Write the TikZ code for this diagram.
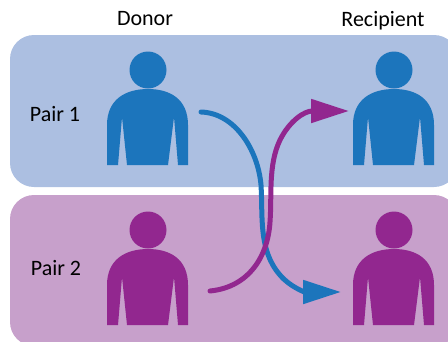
\documentclass[tikz,border=0pt]{standalone}
\usepackage{fontspec}
\setmainfont{Carlito}
\usetikzlibrary{arrows.meta}
\definecolor{pairblue}{HTML}{ACBFE1}
\definecolor{pairpurple}{HTML}{C7A0CB}
\definecolor{darkblue}{HTML}{1C75BC}
\definecolor{darkpurple}{HTML}{92278F}
\tikzset{
    panel/.style={rounded corners=24pt},
    swap/.style={line width=5pt, line cap=round, -{Triangle[length=38pt,width=23pt]}},
    label/.style={font=\fontsize{22}{26}\selectfont, text=black, inner sep=0pt},
    person/.pic={
        \fill (0,-95) circle (18.5);
        \fill (-41,-40) .. controls (-41,-66) and (-22,-76) .. (0,-76)
            .. controls (22,-76) and (40,-66) .. (40,-40) -- (40,0) -- (30,0)
            -- (26,-48) -- (20,0) -- (-21,0) -- (-26,-48) -- (-30,0) -- (-41,0) -- cycle;
    }
}
\begin{document}
\begin{tikzpicture}[x=1pt,y=-1pt]
    \useasboundingbox (0,0) rectangle (448,341);
    \clip (0,0) rectangle (448,341);

    % Draw the panels
    \fill[pairblue, panel] (10,35) rectangle (458,187);
    \fill[pairpurple, panel] (10,195) rectangle (458,346);

    % Draw the people
    \pic[darkblue] (donorone) at (148,165) {person};
    \pic[darkblue] (recipientone) at (394,165) {person};
    \pic[darkpurple] (donortwo) at (148,325) {person};
    \pic[darkpurple] (recipienttwo) at (394,325) {person};

    % Labels
    \node[label] (donor) at (145,19) {Donor};
    \node[label] (recipient) at (383,21) {Recipient};
    \node[label] (pairone) at (55,114) {Pair 1};
    \node[label] (pairtwo) at (56,268) {Pair 2};

    % Ends of the arrows
    \coordinate (bluestart) at (201,112);
    \coordinate (blueend) at (341,292);
    \coordinate (purplestart) at (210,291);
    \coordinate (purpleend) at (349,111);

    % Draw the arrows
    \draw[swap, darkblue] (bluestart) .. controls (235,113) and (258,150) .. (261,185)
        .. controls (263,215) and (258,250) .. (280,275)
        .. controls (290,287) and (305,292) .. (blueend);
    \draw[swap, darkpurple] (purplestart) .. controls (250,287) and (268,255) .. (270,222)
        .. controls (272,195) and (268,165) .. (280,140)
        .. controls (290,120) and (305,111) .. (purpleend);
\end{tikzpicture}
\end{document}
